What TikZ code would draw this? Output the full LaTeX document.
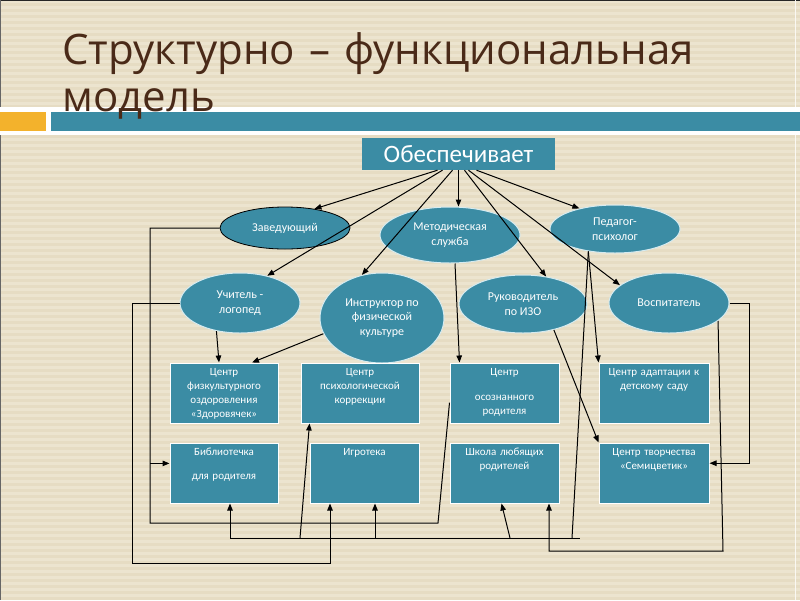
\documentclass[tikz,border=0pt]{standalone}
\usepackage{fontspec}
\setmainfont{Carlito}
\newfontfamily\titlefont{Open Sans}
\usetikzlibrary{shapes.geometric, arrows.meta, calc}

\definecolor{paper}{HTML}{E6DCC3}
\definecolor{paperline}{HTML}{ECE4CF}
\definecolor{boxteal}{HTML}{3B8CA4}
\definecolor{rimblue}{HTML}{D6EBF0}
\definecolor{bandorange}{HTML}{F3B22C}
\definecolor{titlebrown}{HTML}{4A2A18}

\begin{document}
\begin{tikzpicture}[
    x=1pt, y=-1pt,
    >={Triangle[length=7pt, width=5.5pt]},
    title/.style={anchor=base west, inner sep=0pt, text width=730pt, align=left, text=titlebrown, font=\titlefont\fontsize{42}{47}\selectfont},
    head/.style={rectangle, fill=boxteal, inner sep=0pt, minimum width=193pt, minimum height=32pt, text=white, font=\fontsize{25}{27}\selectfont},
    role/.style={ellipse, fill=boxteal, draw=rimblue, line width=1pt, inner sep=0pt, text=white, align=center, font=\fontsize{12}{14.5}\selectfont},
    unit/.style={rectangle, fill=boxteal, draw=white, line width=1pt, inner xsep=0pt, inner ysep=3pt, text width=#1, text height=9pt, text depth=45pt, text=white, align=center, font=\fontsize{11}{14}\selectfont},
    link/.style={->, line width=1pt, black}
]
\useasboundingbox (0,0) rectangle (800,600);

% -------------------------
% SLIDE BACKGROUND
% -------------------------
\fill[paper] (0,0) rectangle (800,600);
\foreach \k in {0,...,99}
    \fill[paperline] (0,6*\k) rectangle (800,6*\k+3);
\draw[black!85, line width=2pt] (0,0) -- (800,0);
\draw[black!60, line width=2pt] (0,0) -- (0,600);
\draw[white!80!paper, line width=1pt] (795,0) -- (795,600);

\fill[white] (0,107) rectangle (800,135);
\fill[bandorange] (0,112) rectangle (46,131);
\fill[boxteal] (51,112) rectangle (800,131);

\node[title] (heading) at (62,64) {Структурно – функциональная\\модель};

% -------------------------
% TOP AND ROLES
% -------------------------
\node[head] (obesp) at (458.5,154) {Обеспечивает};

\node[role, draw=black, line width=0.8pt, minimum width=130pt, minimum height=42pt] (zav) at (285,228) {Заведующий};
\node[role, minimum width=140pt, minimum height=56pt] (metod) at (450,235) {Методическая\\служба};
\node[role, minimum width=130pt, minimum height=48pt] (ped) at (615,229) {Педагог-\\психолог};

\node[role, minimum width=120pt, minimum height=60pt] (uch) at (240,303) {Учитель -\\логопед};
\node[role, minimum width=124pt, minimum height=90pt] (instr) at (382,318) {Инструктор по\\физической\\культуре};
\node[role, minimum width=128pt, minimum height=58pt] (ruk) at (523,304) {Руководитель\\по ИЗО};
\node[role, minimum width=120pt, minimum height=60pt] (vos) at (669,303) {Воспитатель};

% -------------------------
% CENTRES
% -------------------------
\node[unit=108pt] (zdor) at (224,393) {Центр\\физкультурного\\оздоровления\\«Здоровячек»};
\node[unit=118pt] (psy) at (360,393) {Центр\\психологической\\коррекции};
\node[unit=109pt] (osoz) at (504.5,393) {Центр\\[11pt]осознанного\\родителя};
\node[unit=110pt] (adap) at (654,393) {Центр адаптации к\\детскому саду};

\node[unit=108pt] (bib) at (224,473) {Библиотечка\\[10pt]для родителя};
\node[unit=109pt] (igr) at (364.5,473) {Игротека};
\node[unit=109pt] (shk) at (504.5,473) {Школа любящих\\родителей};
\node[unit=110pt] (semi) at (654,473) {Центр творчества\\«Семицветик»};

% -------------------------
% LINKS FROM THE TOP BOX
% -------------------------
\draw[link] ($(obesp.south)+(-21,0)$) -- (zav.33);
\draw[link] ($(obesp.south)+(-16,0)$) -- (uch.45);
\draw[link] ($(obesp.south)+(-6,0)$) -- (instr.115);
\draw[link] (obesp.south) -- (obesp.south |- metod.north);
\draw[link] ($(obesp.south)+(6,0)$) -- (ruk.50);
\draw[link] ($(obesp.south)+(10,0)$) -- (vos.160);
\draw[link] ($(obesp.south)+(18,0)$) -- (ped.150);

% -------------------------
% LINKS TO THE CENTRES
% -------------------------
\draw[link] (uch.230) -- ($(zdor.north)+(-5,0)$);
\draw[link] (instr.195) -- ($(zdor.north)+(28,0)$);
\draw[link] ($(metod.south)+(5,0)$) -- ($(osoz.north)+(-45,0)$);
\draw[link] (ped.220) -- (adap.north west);
\draw[link] (ruk.320) -- (semi.north west);
\draw[link] (vos.east) -- ++(20,0) |- (semi.10);

% Заведующий: round the left side
\coordinate (zl) at (150,523);
\coordinate (zr) at (438,523);
\draw[line width=1pt] (zav.west) -| (zl) -- (zr) -- (osoz.190);
\draw[link] (bib.170 -| zl) -- (bib.170);

% Учитель: outer loop to the Игротека
\coordinate (ul) at (132,563);
\coordinate (ur) at (330,563);
\draw[link] (uch.west) -| (ul) -- (ur) -- (ur |- igr.south);

% Педагог-психолог: common bus
\coordinate (bl) at (230,538);
\coordinate (br) at (580,538);
\coordinate (bp) at (572,538);
\coordinate (b2) at (300,538);
\coordinate (b3) at (375,538);
\coordinate (b4) at (510,538);
\draw[line width=1pt] (bl) -- (br);
\draw[line width=1pt] (ped.220) -- (bp);
\draw[link] (bl) -- (bl |- bib.south);
\draw[link] (b2) -- ($(psy.south west)+(9,0)$);
\draw[link] (b3) -- (b3 |- igr.south);
\draw[link] (b4) -- ($(shk.south)+(-3,0)$);

% Воспитатель: down and back to the Школа
\coordinate (vr) at (723,551);
\coordinate (vl) at (549,551);
\draw[link] (vos.340) -- (vr) -- (vl) -- (vl |- shk.south);

\end{tikzpicture}
\end{document}
